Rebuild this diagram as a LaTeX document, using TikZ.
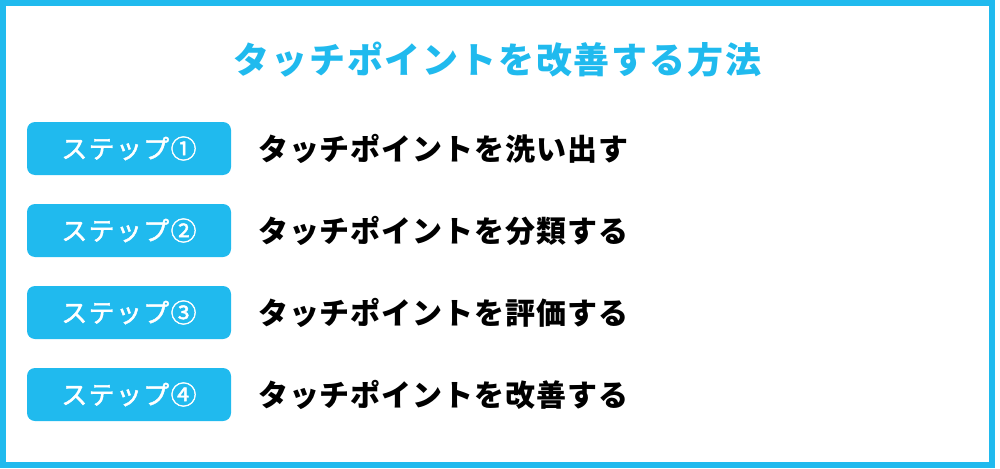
\documentclass[tikz,border=0pt]{standalone}
\usepackage{fontspec}
\newfontfamily\cjktitle[LetterSpace=5]{Noto Sans CJK JP}
\newfontfamily\cjktext[LetterSpace=3]{Noto Sans CJK JP}
\newfontfamily\cjklabel[LetterSpace=5, FakeBold=1.6]{Noto Sans CJK JP}
\definecolor{tpblue}{RGB}{32,186,238}

\begin{document}
\begin{tikzpicture}[x=1pt,y=-1pt]
	\tikzstyle{title} = [text=tpblue, inner sep=0pt, font=\cjktitle\bfseries\fontsize{36}{36}\selectfont]
	\tikzstyle{stepbox} = [fill=tpblue, rounded corners=8pt, minimum width=204pt, minimum height=53pt, inner sep=0pt, text=white, font=\cjklabel\fontsize{26}{26}\selectfont]
	\tikzstyle{steptext} = [anchor=west, inner sep=0pt, font=\cjktext\bfseries\fontsize{30}{30}\selectfont]

	\useasboundingbox (0,0) rectangle (1000,468);
	\draw[tpblue, line width=6pt] (3,3) rectangle (992,465);

	\draw (497.5,60) node[title] (title) {タッチポイントを改善する方法};

	\draw (129,148.5) node[stepbox] (s1) {ステップ①};
	\draw (129,230.5) node[stepbox] (s2) {ステップ②};
	\draw (129,312.5) node[stepbox] (s3) {ステップ③};
	\draw (129,394.5) node[stepbox] (s4) {ステップ④};

	\draw (258,148.5) node[steptext] (t1) {タッチポイントを洗い出す};
	\draw (258,230.5) node[steptext] (t2) {タッチポイントを分類する};
	\draw (258,312.5) node[steptext] (t3) {タッチポイントを評価する};
	\draw (258,394.5) node[steptext] (t4) {タッチポイントを改善する};
\end{tikzpicture}
\end{document}
